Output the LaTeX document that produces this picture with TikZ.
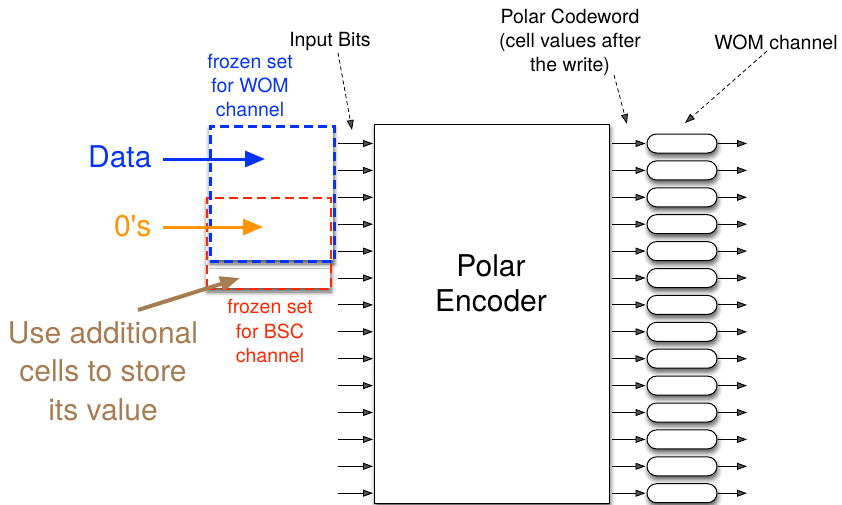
\documentclass[tikz,border=0pt]{standalone}
\usepackage{fontspec}
\setmainfont{TeX Gyre Heros}
\usetikzlibrary{arrows.meta,positioning,shapes.misc,shadows.blur}
\definecolor{womblue}{HTML}{0433FF}
\definecolor{zeroorange}{HTML}{FF9300}
\definecolor{bscred}{HTML}{FF2600}
\definecolor{notebrown}{HTML}{A67C52}
\begin{document}
\begin{tikzpicture}[x=1pt,y=-1pt,
  font=\fontsize{19.5}{24}\selectfont,
  softshadow/.style={blur shadow={shadow xshift=1pt,shadow yshift=-4pt,shadow blur radius=4.5pt,shadow opacity=65}},
  wire/.style={-{Triangle[length=10pt,width=7pt]},line width=.9pt,shorten >=1pt},
  pointer/.style={-{Triangle[length=10pt,width=7pt]},line width=.8pt,dash pattern=on 4pt off 3pt},
  bigflow/.style={-{Triangle[length=20pt,width=16pt]},line width=3pt},
  frozen/.style={draw,line width=2.5pt,dash pattern=on 9pt off 5pt,inner sep=0pt,anchor=north west},
  cell/.style={draw,line width=1pt,rounded rectangle,minimum width=70pt,minimum height=19pt,
               inner sep=0pt,fill=white,softshadow},
  caption/.style={align=center},
  bigtext/.style={align=center,font=\fontsize{30}{38.5}\selectfont}
]
\path[use as bounding box] (0,0) rectangle (842,504);

% shadows under the two frozen sets
\fill[white,softshadow] (206,197) rectangle (330,288);
\fill[white,softshadow] (209,125) rectangle (333,260);
\node[frozen,draw=bscred,line width=2pt,minimum width=124pt,minimum height=91pt] (bscset) at (206,197) {};
\node[frozen,draw=womblue,minimum width=124pt,minimum height=135pt] (womset) at (209,125) {};

\node[caption,text=womblue] (womlbl) at (250,86) {frozen set\\for WOM\\channel};
\node[caption,text=bscred] (bsclbl) at (270,331) {frozen set\\for BSC\\channel};

% encoder
\node[draw,line width=1pt,fill=white,softshadow,inner sep=0pt,anchor=north west,
      minimum width=235pt,minimum height=379pt] (enc) at (374,124) {};
\node[align=center,font=\fontsize{30}{35}\selectfont] (enclbl) at (491,283) {Polar\\Encoder};

% bit rows
\foreach \i in {0,...,13}{
  \pgfmathsetmacro\rowy{143.5+26.9*\i}
  \coordinate (in\i) at (338,\rowy);
  \node[cell] (cell\i) at (682,\rowy) {};
  \coordinate (out\i) at (748,\rowy);
  \draw[wire] (in\i) -- (in\i -| enc.west);
  \draw[wire] ([xshift=2pt]cell\i.west -| enc.east) -- (cell\i.west);
  \draw[wire] (cell\i.east) -- (out\i);
}

% inputs to the frozen sets
\node[bigtext,text=womblue,anchor=east] (data) at (155,157) {Data};
\coordinate (datatip) at (265,159);
\draw[bigflow,draw=womblue,fill=womblue] (data.east |- datatip) ++(8,0) -- (datatip);
\node[bigtext,text=zeroorange,anchor=east] (zeros) at (155,226) {0\textquotesingle s};
\coordinate (zerotip) at (263,227);
\draw[bigflow,draw=zeroorange,fill=zeroorange] (zeros.east |- zerotip) ++(8,0) -- (zerotip);

% note
\node[bigtext,text=notebrown] (note) at (103,371) {Use additional\\cells to store\\its value};
\coordinate (notetail) at (138,310);
\coordinate (notetip) at (240,278);
\draw[-{Triangle[length=20pt,width=15pt]},line width=4pt,draw=notebrown,fill=notebrown] (notetail) -- (notetip);

% top captions
\node[caption] (inputlbl) at (330,42) {Input Bits};
\coordinate (inputtip) at (352,130);
\draw[pointer] ([xshift=8pt,yshift=2pt]inputlbl.south) -- (inputtip);
\node[caption] (cwlbl) at (570,42) {Polar Codeword\\(cell values after\\the write)};
\coordinate (cwtip) at (627,124);
\draw[pointer] ([xshift=44pt,yshift=4pt]cwlbl.south) -- (cwtip);
\node[caption] (womchan) at (776,42) {WOM channel};
\coordinate (womtip) at (685,123);
\draw[pointer] ([xshift=-9pt,yshift=2pt]womchan.south) -- (womtip);
\end{tikzpicture}
\end{document}
